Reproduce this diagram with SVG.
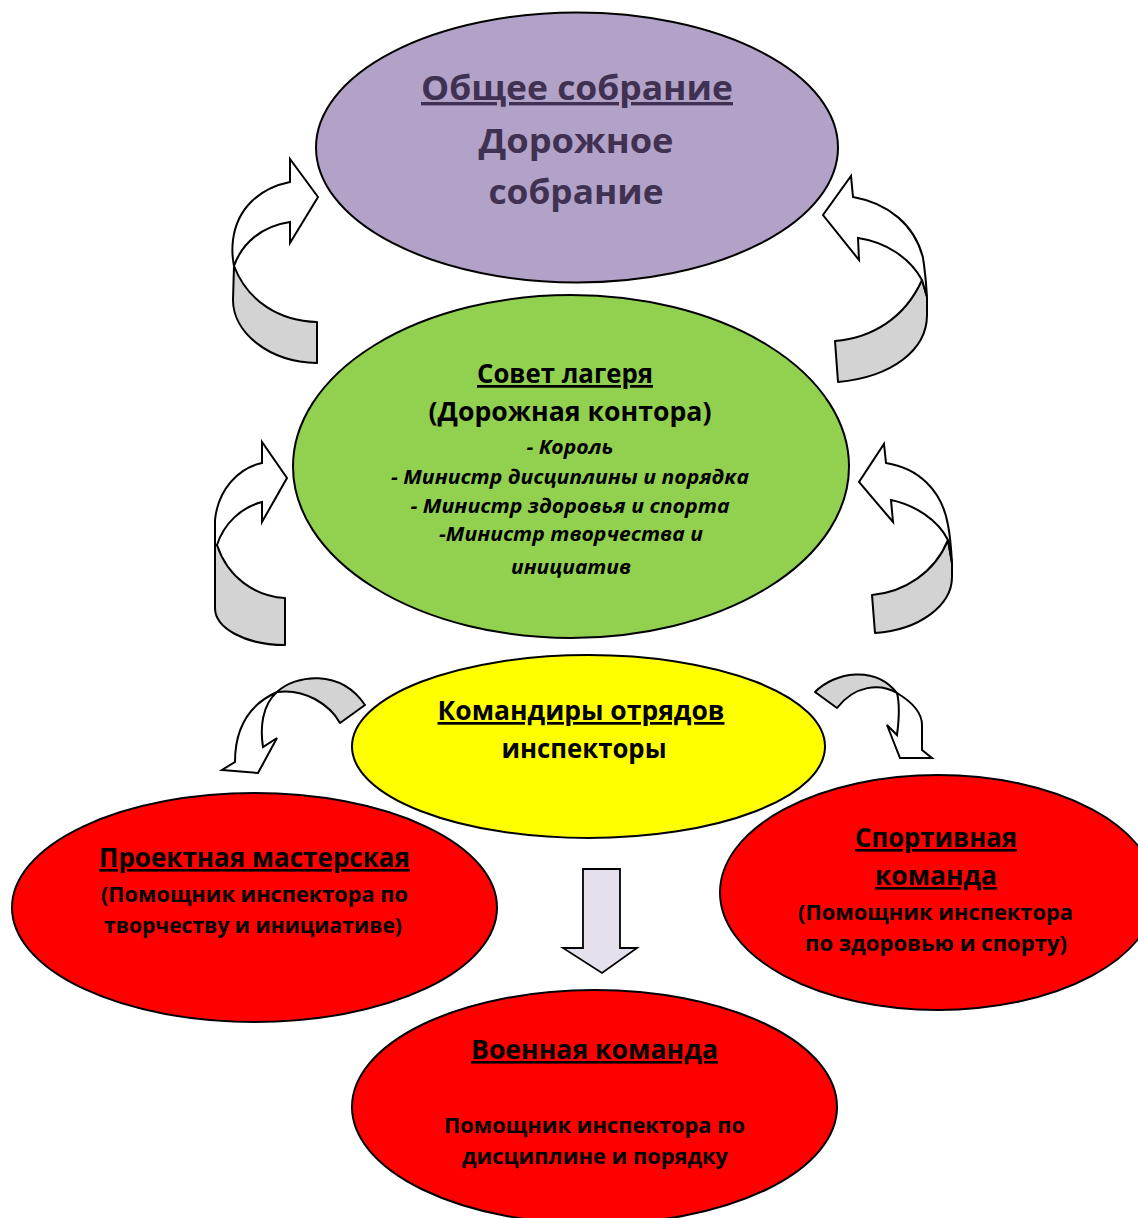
<svg xmlns="http://www.w3.org/2000/svg" width="1138" height="1218" viewBox="0 0 1138 1218">
<style>
.node{stroke:#000;stroke-width:2}
.t{font-family:"Open Sans","Liberation Sans",sans-serif;font-weight:bold;text-anchor:middle;fill:#000}
.i{font-style:italic}
.u{text-decoration:underline}
.title{fill:#403152}
.grey{fill:#D3D3D3;stroke:#000;stroke-width:2;stroke-linejoin:round}
.white{fill:#FFFFFF;stroke:#000;stroke-width:2;stroke-linejoin:miter}
.down{fill:#E6E0EC;stroke:#000;stroke-width:1.8}
</style>
<rect width="1138" height="1218" fill="#fff"/>
<g id="connectors">
  <g id="arrow-top-left">
    <path class="grey" d="M234,266 C248,302 280,321 317,322 L317,363 C268,362 233,332 233,300 Z"/>
    <path class="white" d="M290,182 L290,159 L318,197 L290,243 L290,222 C262,226 242,243 234,266 C232,256 232,248 233,240 C237,208 260,188 290,182 Z"/>
  </g>
  <g id="arrow-top-right">
    <path class="grey" d="M922,280 C905,318 872,338 835,341 L838,382 C892,377 927,350 927,315 L927,297 Z"/>
    <path class="white" d="M853,197 L851,176 L823,215 L859,260 L858,238 C886,242 910,258 922,280 L927,297 C926,282 925,270 923,258 C915,225 888,203 853,197 Z"/>
  </g>
  <g id="arrow-mid-left">
    <path class="grey" d="M217,545 C228,578 255,596 285,598 L285,645 C245,645 215,628 215,608 L215,545 Z"/>
    <path class="white" d="M262,463 L262,442 L287,478 L262,522 L262,502 C242,507 224,523 217,545 L215,545 L215,520 C218,490 238,468 262,463 Z"/>
  </g>
  <g id="arrow-mid-right">
    <path class="grey" d="M948,540 C935,572 905,592 872,595 L875,633 C920,630 952,605 952,577 L952,563 Z"/>
    <path class="white" d="M886,463 L884,444 L859,482 L893,522 L891,500 C915,505 938,520 948,540 L952,563 C951,545 950,535 948,525 C942,490 918,468 886,463 Z"/>
  </g>
  <g id="arrow-low-left">
    <path class="grey" d="M277,692 C295,675 340,668 365,705 L340,723 C330,705 305,688 277,692 Z"/>
    <path class="white" d="M277,692 C248,705 235,730 235,762 L222,770 L258,773 L277,738 L263,747 C260,728 262,705 277,692 Z"/>
  </g>
  <g id="arrow-low-right">
    <path class="grey" d="M815,692 C835,672 875,665 897,693 C880,683 855,685 837,708 Z"/>
    <path class="white" d="M897,693 C912,702 922,712 922,725 L922,750 L932,758 L900,758 L887,725 L897,735 C899,720 900,705 897,693 Z"/>
  </g>
  <path id="arrow-down" class="down" d="M583,869 L620,869 L620,948 L637,948 L602,973 L563,948 L583,948 Z"/>
</g>

<g id="node-general-meeting">
  <ellipse class="node" cx="577" cy="147.5" rx="261" ry="135" fill="#B2A2C7"/>
  <text class="t title u" x="577" y="100" font-size="34" textLength="312" lengthAdjust="spacingAndGlyphs">Общее собрание</text>
  <text class="t title" x="576" y="153" font-size="34" textLength="195" lengthAdjust="spacingAndGlyphs">Дорожное</text>
  <text class="t title" x="576" y="204" font-size="34" textLength="175" lengthAdjust="spacingAndGlyphs">собрание</text>
</g>

<g id="node-camp-council">
  <ellipse class="node" cx="571" cy="466.5" rx="278" ry="171.5" fill="#92D050"/>
  <text class="t u" x="565" y="383" font-size="27" textLength="176" lengthAdjust="spacingAndGlyphs">Совет лагеря</text>
  <text class="t" x="570" y="421" font-size="27" textLength="283" lengthAdjust="spacingAndGlyphs">(Дорожная контора)</text>
  <text class="t i" x="570" y="454" font-size="20" textLength="87" lengthAdjust="spacingAndGlyphs">- Король</text>
  <text class="t i" x="570" y="484" font-size="20" textLength="358" lengthAdjust="spacingAndGlyphs">- Министр дисциплины и порядка</text>
  <text class="t i" x="570" y="513" font-size="20" textLength="319" lengthAdjust="spacingAndGlyphs">- Министр здоровья и спорта</text>
  <text class="t i" x="571" y="541" font-size="20" textLength="264" lengthAdjust="spacingAndGlyphs">-Министр творчества и</text>
  <text class="t i" x="571" y="574" font-size="20" textLength="120" lengthAdjust="spacingAndGlyphs">инициатив</text>
</g>

<g id="node-commanders">
  <ellipse class="node" cx="588.5" cy="746.5" rx="236.5" ry="91.5" fill="#FFFF00"/>
  <text class="t u" x="581" y="720" font-size="27" textLength="287" lengthAdjust="spacingAndGlyphs">Командиры отрядов</text>
  <text class="t" x="584" y="758" font-size="27" textLength="165" lengthAdjust="spacingAndGlyphs">инспекторы</text>
</g>

<g id="node-project-workshop">
  <ellipse class="node" cx="254.5" cy="907.5" rx="242.5" ry="114.5" fill="#FF0000"/>
  <text class="t u" x="254.5" y="867" font-size="26" textLength="311" lengthAdjust="spacingAndGlyphs">Проектная мастерская</text>
  <text class="t" x="254.5" y="902" font-size="22" textLength="307" lengthAdjust="spacingAndGlyphs">(Помощник инспектора по</text>
  <text class="t" x="253" y="933" font-size="22" textLength="298" lengthAdjust="spacingAndGlyphs">творчеству и инициативе)</text>
</g>

<g id="node-sport-team">
  <ellipse class="node" cx="938" cy="892.5" rx="218" ry="117.5" fill="#FF0000"/>
  <text class="t u" x="936" y="847" font-size="26" textLength="162" lengthAdjust="spacingAndGlyphs">Спортивная</text>
  <text class="t u" x="936" y="885" font-size="26" textLength="122" lengthAdjust="spacingAndGlyphs">команда</text>
  <text class="t" x="935.5" y="920" font-size="22" textLength="275" lengthAdjust="spacingAndGlyphs">(Помощник инспектора</text>
  <text class="t" x="936" y="951" font-size="22" textLength="262" lengthAdjust="spacingAndGlyphs">по здоровью и спорту)</text>
</g>

<g id="node-military-team">
  <ellipse class="node" cx="594.5" cy="1107" rx="242.5" ry="117" fill="#FF0000"/>
  <text class="t u" x="594.5" y="1059" font-size="26" textLength="247" lengthAdjust="spacingAndGlyphs">Военная команда</text>
  <text class="t" x="594.5" y="1133" font-size="22" textLength="301" lengthAdjust="spacingAndGlyphs">Помощник инспектора по</text>
  <text class="t" x="595" y="1164" font-size="22" textLength="266" lengthAdjust="spacingAndGlyphs">дисциплине и порядку</text>
</g>
</svg>
